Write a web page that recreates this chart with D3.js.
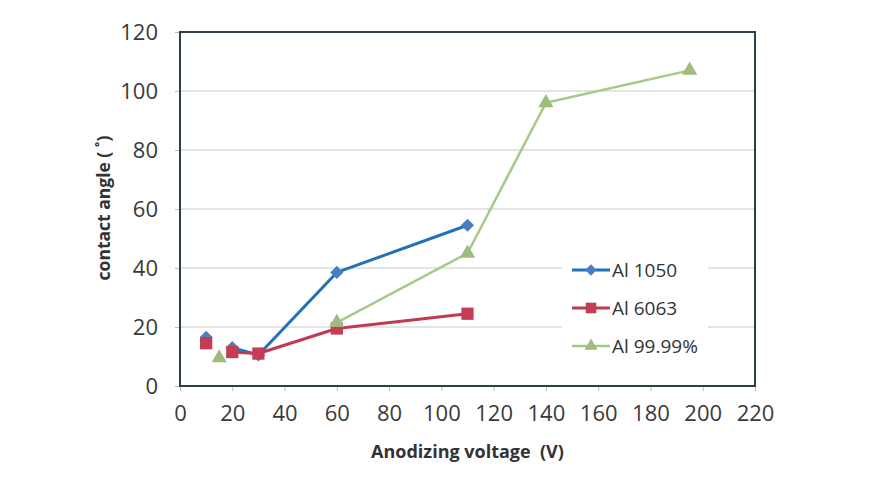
<!DOCTYPE html>
<html>
<head>
<meta charset="utf-8">
<style>
  body { margin: 0; background: #fff; }
  .grid line { stroke: #c9c9c9; stroke-width: 1px; }
  .tick text { font-family: "Open Sans", sans-serif; fill: #3a3a3a; }
  .title { font-family: "Open Sans", sans-serif; font-weight: bold; fill: #333; white-space: pre; }
</style>
</head>
<body>
<svg width="876" height="487"></svg>

<script src="https://d3js.org/d3.v7.min.js"></script>
<script>

// chart values (null = gap in the line)
var voltage1050 = [10, 15, 20, 30, 60, 110];
var angle1050   = [16.5, null, 13, 10.5, 38.5, 54.5];

var voltage6063 = [10, 15, 20, 30, 60, 110];
var angle6063   = [14.5, null, 11.5, 11, 19.5, 24.5];

var voltage9999 = [15, 40, 60, 110, 140, 195];
var angle9999   = [9.5, null, 21.5, 45, 96, 107];

var seriesNames = ["Al 1050", "Al 6063", "Al 99.99%"];
var xTicks = d3.range(0, 221, 20);
var yTicks = d3.range(0, 121, 20);

var svg = d3.select("svg"),
    width = +svg.attr("width"),
    height = +svg.attr("height");

var plotLeft = 180, plotRight = 755, plotTop = 32, plotBottom = 386;

var x = d3.scaleLinear().domain([0, 220]).range([plotLeft, plotRight]);
var y = d3.scaleLinear().domain([0, 120]).range([plotBottom, plotTop]);

function zip(xs, ys) {
  return xs.map(function(v, i) { return {x: v, y: ys[i]}; });
}

var series = [
  {name: seriesNames[0], data: zip(voltage1050, angle1050), line: "#2371b8", fill: "#4a7dc2", symbol: d3.symbolDiamond2, size: 110, width: 3},
  {name: seriesNames[1], data: zip(voltage6063, angle6063), line: "#c03a52", fill: "#c43d55", symbol: d3.symbolSquare, size: 150, width: 3},
  {name: seriesNames[2], data: zip(voltage9999, angle9999), line: "#a5c98a", fill: "#9fbc7e", symbol: d3.symbolTriangle, size: 100, width: 2.5}
];

// horizontal gridlines
svg.append("g")
    .attr("class", "grid")
  .selectAll("line")
  .data(yTicks.slice(1, -1))
  .enter().append("line")
    .attr("x1", plotLeft)
    .attr("x2", plotRight)
    .attr("y1", function(d) { return y(d); })
    .attr("y2", function(d) { return y(d); });

// axes
var xAxis = svg.append("g")
    .attr("transform", "translate(0," + plotBottom + ")")
    .call(d3.axisBottom(x).tickValues(xTicks).tickSize(5).tickPadding(14));
xAxis.select(".domain").remove();
xAxis.selectAll(".tick line").attr("stroke", "#bbb");
xAxis.selectAll(".tick text").style("font-size", "22px");

var yAxis = svg.append("g")
    .attr("transform", "translate(" + plotLeft + ",0)")
    .call(d3.axisLeft(y).tickValues(yTicks).tickSize(5).tickPadding(17));
yAxis.select(".domain").remove();
yAxis.selectAll(".tick line").attr("stroke", "#bbb");
yAxis.selectAll(".tick text").style("font-size", "22px");

// plot frame
svg.append("rect")
    .attr("x", plotLeft)
    .attr("y", plotTop)
    .attr("width", plotRight - plotLeft)
    .attr("height", plotBottom - plotTop)
    .attr("fill", "none")
    .attr("stroke", "#2e3f48")
    .attr("stroke-width", 2);

// lines and markers
var line = d3.line()
    .defined(function(d) { return d.y !== null; })
    .x(function(d) { return x(d.x); })
    .y(function(d) { return y(d.y); });

series.forEach(function(s) {
  // the first point stands alone, the rest is joined
  svg.append("path")
      .datum(s.data.slice(2))
      .attr("d", line)
      .attr("fill", "none")
      .attr("stroke", s.line)
      .attr("stroke-width", s.width)
      .attr("stroke-linejoin", "round");
});

series.forEach(function(s) {
  svg.selectAll(null)
      .data(s.data.filter(function(d) { return d.y !== null; }))
      .enter().append("path")
      .attr("transform", function(d) { return "translate(" + x(d.x) + "," + y(d.y) + ")"; })
      .attr("d", d3.symbol().type(s.symbol).size(s.size))
      .attr("fill", s.fill);
});

// legend
var legend = svg.append("g").attr("transform", "translate(562,252)");
legend.append("rect")
    .attr("width", 146)
    .attr("height", 112)
    .attr("fill", "#fff");

series.forEach(function(s, i) {
  var g = legend.append("g").attr("transform", "translate(10," + (18 + i * 38) + ")");
  g.append("line")
      .attr("x1", 0).attr("x2", 38)
      .attr("stroke", s.line)
      .attr("stroke-width", s.width);
  g.append("path")
      .attr("transform", "translate(19,0)")
      .attr("d", d3.symbol().type(s.symbol).size(s.size * 0.75))
      .attr("fill", s.fill);
  g.append("text")
      .attr("x", 40)
      .attr("dy", "0.35em")
      .style("font-family", "'Open Sans', sans-serif")
      .style("font-size", "19px")
      .attr("fill", "#333")
      .text(s.name);
});

// axis titles
svg.append("text")
    .attr("class", "title")
    .attr("x", (plotLeft + plotRight) / 2)
    .attr("y", 458)
    .attr("text-anchor", "middle")
    .style("font-size", "18px")
    .text("Anodizing voltage  (V)");

svg.append("text")
    .attr("class", "title")
    .attr("transform", "translate(110,208) rotate(-90)")
    .attr("text-anchor", "middle")
    .style("font-size", "17.5px")
    .text("contact angle ( ˚)");

</script>
</body>
</html>
